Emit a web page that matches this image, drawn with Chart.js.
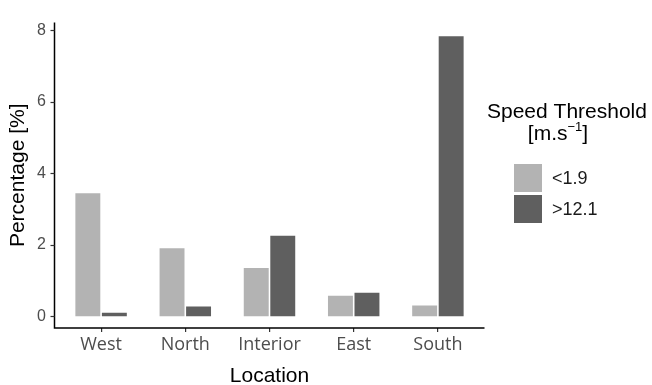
<!DOCTYPE html>
<html>
<head>
<meta charset="utf-8">
<script src="https://cdn.jsdelivr.net/npm/chart.js@4/dist/chart.umd.min.js"></script>
<style>
  html, body { margin: 0; padding: 0; background: #ffffff; }
  #wrap { width: 652px; height: 385px; }
</style>
</head>
<body>
<div id="wrap"><canvas id="chart" width="652" height="385"></canvas></div>
<script>
// Share of hours beyond each wind-speed threshold, per location
const locations = ['West', 'North', 'Interior', 'East', 'South'];
const seriesNames = ['<1.9', '>12.1'];
const belowLow = [3.44, 1.90, 1.35, 0.57, 0.30];
const aboveHigh = [0.10, 0.27, 2.25, 0.66, 7.84];
const yTicks = [0, 2, 4, 6, 8];

const seriesColors = ['#b3b3b3', '#5f5f5f'];

// Axis lines, y tick marks and the side legend (title with superscript unit)
const framePlugin = {
  id: 'frame',
  afterDraw(chart) {
    const ctx = chart.ctx;
    const area = chart.chartArea;
    const y = chart.scales.y;
    const panelLeft = area.left - 4.5;
    const panelRight = area.right + 4.5;

    ctx.save();
    ctx.strokeStyle = '#000000';
    ctx.lineWidth = 1.5;
    ctx.beginPath();
    ctx.moveTo(panelLeft, area.top);
    ctx.lineTo(panelLeft, area.bottom);
    ctx.lineTo(panelRight, area.bottom);
    ctx.stroke();

    ctx.strokeStyle = '#333333';
    ctx.lineWidth = 1.2;
    yTicks.forEach(v => {
      const py = Math.round(y.getPixelForValue(v)) + 0.5;
      ctx.beginPath();
      ctx.moveTo(panelLeft - 4, py);
      ctx.lineTo(panelLeft, py);
      ctx.stroke();
    });

    // legend title
    ctx.fillStyle = '#000000';
    ctx.textBaseline = 'alphabetic';
    ctx.textAlign = 'left';
    ctx.font = '21px "Liberation Sans", Arial, sans-serif';
    ctx.fillText('Speed Threshold', 487, 118);

    const partA = '[m.s';
    const partSup = '\u22121';
    const partB = ']';
    ctx.font = '21px "Liberation Sans", Arial, sans-serif';
    const wA = ctx.measureText(partA).width;
    const wB = ctx.measureText(partB).width;
    ctx.font = '13px "Liberation Sans", Arial, sans-serif';
    const wS = ctx.measureText(partSup).width;
    let lx = 558 - (wA + wS + wB) / 2;
    ctx.font = '21px "Liberation Sans", Arial, sans-serif';
    ctx.fillText(partA, lx, 140);
    lx += wA;
    ctx.font = '13px "Liberation Sans", Arial, sans-serif';
    ctx.fillText(partSup, lx, 131);
    lx += wS;
    ctx.font = '21px "Liberation Sans", Arial, sans-serif';
    ctx.fillText(partB, lx, 140);

    // legend keys
    ctx.font = '18px "Liberation Sans", Arial, sans-serif';
    ctx.textBaseline = 'middle';
    chart.data.datasets.forEach((ds, i) => {
      const top = 164 + i * 31;
      ctx.fillStyle = ds.backgroundColor;
      ctx.fillRect(514, top, 28, 28);
      ctx.fillStyle = '#1a1a1a';
      ctx.fillText(ds.label, 552, top + 15);
    });
    ctx.restore();
  }
};

new Chart(document.getElementById('chart'), {
  type: 'bar',
  data: {
    labels: locations,
    datasets: [
      { label: seriesNames[0], data: belowLow, backgroundColor: seriesColors[0] },
      { label: seriesNames[1], data: aboveHigh, backgroundColor: seriesColors[1] }
    ]
  },
  options: {
    responsive: false,
    animation: false,
    layout: { padding: { top: 17, right: 172, bottom: 0, left: 0 } },
    datasets: {
      bar: { categoryPercentage: 0.63, barPercentage: 0.94, borderWidth: 0 }
    },
    plugins: {
      legend: { display: false },
      tooltip: { enabled: false }
    },
    scales: {
      x: {
        type: 'category',
        offset: true,
        afterFit(scale) { scale.height = 57; },
        border: { display: false },
        grid: {
          display: true,
          offset: false,
          drawOnChartArea: false,
          drawTicks: true,
          tickLength: 4,
          color: '#333333',
          lineWidth: 1.2
        },
        ticks: {
          padding: 2,
          color: '#4d4d4d',
          font: { family: '"Open Sans", sans-serif', size: 18 }
        },
        title: {
          display: true,
          text: 'Location',
          color: '#000000',
          padding: 0,
          font: { family: '"Liberation Sans", Arial, sans-serif', size: 21, lineHeight: 0.86 }
        }
      },
      y: {
        type: 'linear',
        min: -0.33,
        max: 8.22,
        afterFit(scale) { scale.width = 59; },
        afterBuildTicks(scale) { scale.ticks = yTicks.map(v => ({ value: v })); },
        border: { display: false },
        grid: { display: false, drawTicks: false },
        ticks: {
          padding: 13,
          color: '#4d4d4d',
          font: { family: '"Liberation Sans", Arial, sans-serif', size: 16 }
        },
        title: {
          display: true,
          text: 'Percentage [%]',
          color: '#000000',
          padding: { top: 6, bottom: 0 },
          font: { family: '"Liberation Sans", Arial, sans-serif', size: 21 }
        }
      }
    }
  },
  plugins: [framePlugin]
});
</script>
</body>
</html>
